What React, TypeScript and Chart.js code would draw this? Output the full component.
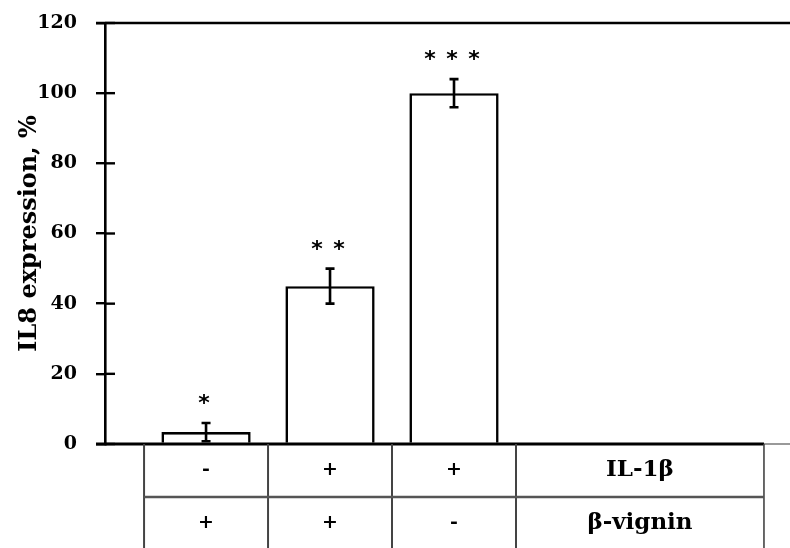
import React, { useEffect, useRef } from 'react';
import { Chart, registerables } from 'chart.js';

Chart.register(...registerables);

// ---- data ----
const barCategories = [0, 1, 2]; // category slots holding the three bars
const values = [3.4, 45, 100];
const errors = [2.6, 5, 4];
const significance = ['*', '**', '***'];
const il1bRow = ['-', '+', '+'];
const vigninRow = ['+', '+', '-'];
const rowLabels = ['IL-1β', 'β-vignin'];
const yTitle = 'IL8 expression, %';
const Y_MIN = 0;
const Y_MAX = 120;
const Y_STEP = 20;
const CATEGORY_COUNT = 5;
const X_MIN = -0.815;
const X_MAX = 4.71;

const SERIF = '"DejaVu Serif", serif';

const overlayPlugin = {
  id: 'overlay',
  afterDraw(chart: any) {
    const ctx: CanvasRenderingContext2D = chart.ctx;
    const xs = chart.scales.x;
    const ys = chart.scales.y;
    const area = chart.chartArea;
    const W = chart.width;
    const H = chart.height;
    ctx.save();

    // top frame line
    ctx.strokeStyle = '#000';
    ctx.lineWidth = 2.6;
    ctx.beginPath();
    ctx.moveTo(area.left - 9, area.top);
    ctx.lineTo(W, area.top);
    ctx.stroke();

    // inner tick marks
    ctx.lineWidth = 2.4;
    for (let v = Y_MIN; v <= Y_MAX; v += Y_STEP) {
      const py = ys.getPixelForValue(v);
      ctx.beginPath();
      ctx.moveTo(area.left, py);
      ctx.lineTo(area.left + 10, py);
      ctx.stroke();
    }

    // error bars
    ctx.lineWidth = 2.6;
    barCategories.forEach((c, i) => {
      const px = xs.getPixelForValue(c);
      const top = ys.getPixelForValue(values[i] + errors[i]);
      const bot = ys.getPixelForValue(Math.max(0, values[i] - errors[i]));
      ctx.beginPath();
      ctx.moveTo(px, top);
      ctx.lineTo(px, bot);
      ctx.moveTo(px - 4.5, top);
      ctx.lineTo(px + 4.5, top);
      ctx.moveTo(px - 4.5, bot);
      ctx.lineTo(px + 4.5, bot);
      ctx.stroke();
    });

    // significance stars
    ctx.fillStyle = '#000';
    ctx.font = 'bold 22px "DejaVu Sans", sans-serif';
    ctx.textAlign = 'center';
    ctx.textBaseline = 'alphabetic';
    const m = ctx.measureText('*');
    const starMid = (m.actualBoundingBoxAscent - m.actualBoundingBoxDescent) / 2;
    barCategories.forEach((c, i) => {
      const px = xs.getPixelForValue(c);
      const top = ys.getPixelForValue(values[i] + errors[i]);
      const cy = top - 24;
      const n = significance[i].length;
      for (let k = 0; k < n; k++) {
        const sx = px - 2 + (k - (n - 1) / 2) * 22;
        ctx.fillText('*', sx, cy + starMid);
      }
    });

    // x axis line
    const tableLeft = xs.getPixelForValue(-0.5);
    const tableRight = xs.getPixelForValue(CATEGORY_COUNT - 0.5);
    ctx.strokeStyle = '#000';
    ctx.lineWidth = 2.8;
    ctx.beginPath();
    ctx.moveTo(area.left - 9, area.bottom);
    ctx.lineTo(tableRight, area.bottom);
    ctx.stroke();
    ctx.lineWidth = 1.2;
    ctx.strokeStyle = '#555';
    ctx.beginPath();
    ctx.moveTo(tableRight, area.bottom);
    ctx.lineTo(W, area.bottom);
    ctx.stroke();

    // table
    const rowH = 53;
    const row1Top = area.bottom;
    const row2Top = area.bottom + rowH;
    ctx.strokeStyle = '#444';
    const edges = [-0.5, 0.5, 1.5, 2.5, CATEGORY_COUNT - 0.5];
    edges.forEach((e, idx) => {
      const px = xs.getPixelForValue(e);
      ctx.lineWidth = idx === edges.length - 1 ? 1.6 : 2;
      ctx.beginPath();
      ctx.moveTo(px, area.bottom);
      ctx.lineTo(px, H);
      ctx.stroke();
    });
    ctx.strokeStyle = '#555';
    ctx.lineWidth = 2.6;
    ctx.beginPath();
    ctx.moveTo(tableLeft, row2Top);
    ctx.lineTo(tableRight, row2Top);
    ctx.stroke();

    ctx.fillStyle = '#000';
    ctx.textBaseline = 'middle';
    ctx.textAlign = 'center';
    ctx.font = `bold 19px ${SERIF}`;
    const r1y = row1Top + rowH / 2;
    const r2y = row2Top + rowH / 2;
    barCategories.forEach((c, i) => {
      const px = xs.getPixelForValue(c);
      ctx.fillText(il1bRow[i], px, r1y);
      ctx.fillText(vigninRow[i], px, r2y);
    });
    const labelX = (xs.getPixelForValue(2.5) + tableRight) / 2;
    ctx.font = `bold 23px ${SERIF}`;
    ctx.fillText(rowLabels[0], labelX, r1y);
    ctx.fillText(rowLabels[1], labelX, r2y);

    ctx.restore();
  },
};

export default function App() {
  const ref = useRef<HTMLCanvasElement | null>(null);
  useEffect(() => {
    document.body.style.margin = '0';
    const canvas = ref.current!;
    const chart = new Chart(canvas, {
      type: 'bar',
      data: {
        datasets: [
          {
            data: barCategories.map((c, i) => ({ x: c, y: values[i] })),
            backgroundColor: '#fff',
            borderColor: '#000',
            borderWidth: 2.6,
            categoryPercentage: 1,
            barPercentage: 0.72,
          },
        ],
      },
      options: {
        responsive: false,
        animation: false,
        devicePixelRatio: 1,
        layout: { padding: { left: 0, top: 23, right: 0, bottom: 104 } },
        plugins: { legend: { display: false }, tooltip: { enabled: false } },
        scales: {
          x: {
            type: 'linear',
            min: X_MIN,
            max: X_MAX,
            offset: false,
            display: false,
            ticks: { stepSize: 1, includeBounds: false },
          },
          y: {
            min: Y_MIN,
            max: Y_MAX,
            afterFit: (scale: any) => {
              scale.width = 105;
              scale.paddingTop = 0;
              scale.paddingBottom = 0;
            },
            ticks: {
              stepSize: Y_STEP,
              color: '#000',
              padding: 19,
              font: { family: SERIF, size: 19, weight: 'bold' },
            },
            grid: {
              drawOnChartArea: false,
              drawTicks: true,
              tickLength: 9,
              color: '#000',
              lineWidth: 2.4,
            },
            border: { display: true, color: '#000', width: 2.6 },
            title: {
              display: true,
              text: yTitle,
              color: '#000',
              font: { family: SERIF, size: 24, weight: 'bold' },
              padding: { top: 15, bottom: 0 },
            },
          },
        },
      },
      plugins: [overlayPlugin],
    });
    return () => chart.destroy();
  }, []);
  return (
    <div style={{ width: 790, height: 548, background: '#fff' }}>
      <canvas ref={ref} width={790} height={548} style={{ display: 'block' }} />
    </div>
  );
}
